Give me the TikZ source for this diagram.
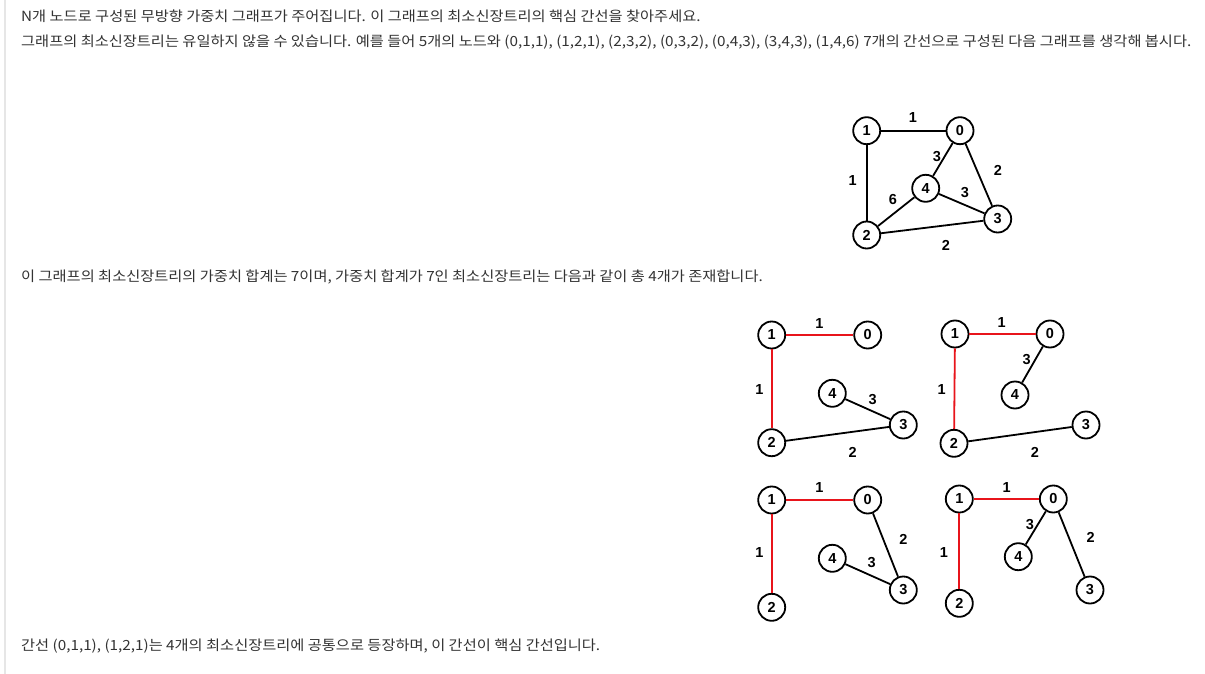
\documentclass[tikz,border=0pt]{standalone}
\usepackage{fontspec}
\setmainfont{Liberation Sans}
\newfontfamily\kr[FakeStretch=1.09]{Noto Sans CJK KR}
\definecolor{txt}{HTML}{333333}
\definecolor{redc}{HTML}{E8141B}
\definecolor{rule}{HTML}{E6E6E6}
\tikzset{
  nd/.style={circle, draw=black, line width=1.8pt, minimum size=27pt, inner sep=0pt, font=\fontsize{14.5}{14.5}\selectfont\bfseries, fill=white},
  lb/.style={inner sep=0pt, font=\fontsize{14.5}{14.5}\selectfont\bfseries},
  ed/.style={line width=1.8pt, draw=black},
  mst/.style={line width=1.8pt, draw=redc},
  para/.style={anchor=base west, inner sep=0pt, text=txt, font=\kr\fontsize{14}{14}\selectfont}
}
\begin{document}
\begin{tikzpicture}[x=1pt,y=-1pt]
\useasboundingbox (0,0) rectangle (1205,674);
\fill[white] (0,0) rectangle (1205,674);
\coordinate (rt) at (5,0);
\coordinate (rb) at (5,674);
\draw[rule, line width=1.5pt] (rt) -- (rb);

\node[para] (t1) at (21,22) {N개 노드로 구성된 무방향 가중치 그래프가 주어집니다. 이 그래프의 최소신장트리의 핵심 간선을 찾아주세요.};
\node[para] (t2) at (21,47) {그래프의 최소신장트리는 유일하지 않을 수 있습니다. 예를 들어 5개의 노드와 (0,1,1), (1,2,1), (2,3,2), (0,3,2), (0,4,3), (3,4,3), (1,4,6) 7개의 간선으로 구성된 다음 그래프를 생각해 봅시다.};
\node[para] (t3) at (21,281) {이 그래프의 최소신장트리의 가중치 합계는 7이며, 가중치 합계가 7인 최소신장트리는 다음과 같이 총 4개가 존재합니다.};
\node[para] (t4) at (21,650) {간선 (0,1,1), (1,2,1)는 4개의 최소신장트리에 공통으로 등장하며, 이 간선이 핵심 간선입니다.};

% main graph
\node[nd] (a1) at (866.7,130.7) {1};
\node[nd] (a0) at (960,130.7) {0};
\node[nd] (a4) at (925.7,188.3) {4};
\node[nd] (a3) at (997.7,219) {3};
\node[nd] (a2) at (866.7,235) {2};
\draw[ed] (a1) -- (a0);
\draw[ed] (a1) -- (a2);
\draw[ed] (a0) -- (a4);
\draw[ed] (a0) -- (a3);
\draw[ed] (a4) -- (a3);
\draw[ed] (a4) -- (a2);
\draw[ed] (a2) -- (a3);
\node[lb] (la10) at (913,118) {1};
\node[lb] (la04) at (937,157) {3};
\node[lb] (la03) at (998,170) {2};
\node[lb] (la12) at (852.7,181) {1};
\node[lb] (la24) at (893,200) {6};
\node[lb] (la43) at (965,193) {3};
\node[lb] (la23) at (946,245) {2};

% tree 1
\node[nd] (b1) at (771.7,335) {1};
\node[nd] (b0) at (867.7,335) {0};
\node[nd] (b4) at (832.3,393.3) {4};
\node[nd] (b3) at (903.3,425) {3};
\node[nd] (b2) at (771.7,442.7) {2};
\draw[mst] (b1) -- (b0);
\draw[mst] (b1) -- (b2);
\draw[ed] (b4) -- (b3);
\draw[ed] (b2) -- (b3);
\node[lb] (lb10) at (819.3,323.3) {1};
\node[lb] (lb12) at (759.3,389.3) {1};
\node[lb] (lb43) at (872.7,399.3) {3};
\node[lb] (lb23) at (852.7,452.7) {2};

% tree 2
\node[nd] (c1) at (955,334) {1};
\node[nd] (c0) at (1050,334) {0};
\node[nd] (c4) at (1015,395) {4};
\node[nd] (c3) at (1086,425) {3};
\node[nd] (c2) at (954,443.3) {2};
\draw[mst] (c1) -- (c0);
\draw[mst] (c1) -- (c2);
\draw[ed] (c0) -- (c4);
\draw[ed] (c2) -- (c3);
\node[lb] (lc10) at (1001.7,322.7) {1};
\node[lb] (lc04) at (1026.7,360) {3};
\node[lb] (lc12) at (941.7,389.3) {1};
\node[lb] (lc23) at (1035,452.7) {2};

% tree 3
\node[nd] (d1) at (771.7,500) {1};
\node[nd] (d0) at (867.7,500) {0};
\node[nd] (d4) at (832.3,558.3) {4};
\node[nd] (d3) at (903.3,590) {3};
\node[nd] (d2) at (771.7,607.3) {2};
\draw[mst] (d1) -- (d0);
\draw[mst] (d1) -- (d2);
\draw[ed] (d0) -- (d3);
\draw[ed] (d4) -- (d3);
\node[lb] (ld10) at (819.3,487.7) {1};
\node[lb] (ld03) at (903.3,539) {2};
\node[lb] (ld12) at (759.3,552.3) {1};
\node[lb] (ld43) at (871.7,562.3) {3};

% tree 4
\node[nd] (e1) at (959.3,499) {1};
\node[nd] (e0) at (1053.3,499) {0};
\node[nd] (e4) at (1018.3,556.7) {4};
\node[nd] (e3) at (1090,590) {3};
\node[nd] (e2) at (959.3,603.3) {2};
\draw[mst] (e1) -- (e0);
\draw[mst] (e1) -- (e2);
\draw[ed] (e0) -- (e4);
\draw[ed] (e0) -- (e3);
\node[lb] (le10) at (1006.7,487.7) {1};
\node[lb] (le04) at (1030,524.3) {3};
\node[lb] (le03) at (1090.7,537.7) {2};
\node[lb] (le12) at (944,552.3) {1};
\end{tikzpicture}
\end{document}
